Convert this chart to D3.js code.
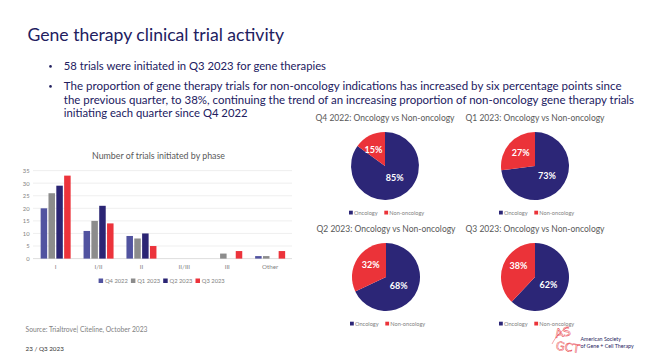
<!DOCTYPE html>
<html>
<head>
<meta charset="utf-8">
<script src="https://cdn.jsdelivr.net/npm/d3@7"></script>
<style>
  html, body { margin: 0; padding: 0; background: #ffffff; }
  svg { display: block; font-family: Lato, "Open Sans", sans-serif; }
</style>
</head>
<body>
<svg id="chart" width="649" height="360"></svg>
<script>
// ---------- data ----------
const pageTitle = "Gene therapy clinical trial activity";
const bulletLines = [
  ["58 trials were initiated in Q3 2023 for gene therapies"],
  ["The proportion of gene therapy trials for non-oncology indications has increased by six percentage points since",
   "the previous quarter, to 38%, continuing the trend of an increasing proportion of non-oncology gene therapy trials",
   "initiating each quarter since Q4 2022"]
];
const barTitle = "Number of trials initiated by phase";
const phases = ["I", "I/II", "II", "II/III", "III", "Other"];
const quarters = ["Q4 2022", "Q1 2023", "Q2 2023", "Q3 2023"];
const q4_2022 = [20, 11, 9, 0, 0, 1];
const q1_2023 = [26, 15, 8, 0, 2, 1];
const q2_2023 = [29, 21, 10, 0, 0, 0];
const q3_2023 = [33, 14, 5, 0, 3, 3];
const yTicks = [0, 5, 10, 15, 20, 25, 30, 35];

const pieTitles = ["Q4 2022: Oncology vs Non-oncology", "Q1 2023: Oncology vs Non-oncology",
                   "Q2 2023: Oncology vs Non-oncology", "Q3 2023: Oncology vs Non-oncology"];
const pieCategories = ["Oncology", "Non-oncology"];
const oncology = [85, 73, 68, 62];
const nonOncology = [15, 27, 32, 38];

const sourceText = "Source: Trialtrove| Citeline, October 2023";
const pageText = "23 / Q3 2023";

// ---------- styles ----------
const navyText = "#22205f";
const greyText = "#595959";
const barColors = ["#5153a0", "#8c8c8c", "#2b2574", "#ec333b"];
const pieColors = ["#2c2677", "#eb3339"];

const svg = d3.select("#chart");
svg.append("rect").attr("width", 649).attr("height", 360).attr("fill", "#fff");

// ---------- title & bullets ----------
svg.append("text").attr("x", 27.5).attr("y", 41)
  .attr("font-size", 18).attr("font-weight", 400).attr("fill", navyText)
  .attr("textLength", 256.5).attr("lengthAdjust", "spacingAndGlyphs")
  .text(pageTitle);

const bulletBase = [70, 90];
const lineEnds = [[326], [621.5, 634, 247.5]];
bulletLines.forEach((lines, i) => {
  svg.append("circle").attr("cx", 50.5).attr("cy", bulletBase[i] - 3.6).attr("r", 1.3).attr("fill", navyText);
  lines.forEach((ln, j) => {
    svg.append("text").attr("x", 63.8).attr("y", bulletBase[i] + j * 13.7)
      .attr("font-size", 11).attr("fill", navyText)
      .attr("textLength", lineEnds[i][j] - 63.8).attr("lengthAdjust", "spacingAndGlyphs")
      .text(ln);
  });
});

// ---------- bar chart ----------
const series = [q4_2022, q1_2023, q2_2023, q3_2023];
const x0 = d3.scaleBand().domain(phases).range([34.2, 291.6]).padding(0);
const x1 = d3.scaleBand().domain(quarters)
  .range([6.45, x0.bandwidth() - 6.45]).paddingInner(0.17);
const y = d3.scaleLinear().domain([0, 35]).range([258.6, 170.6]);

svg.append("text").attr("x", 92).attr("y", 159)
  .attr("font-size", 8.6).attr("fill", greyText)
  .attr("textLength", 133).attr("lengthAdjust", "spacingAndGlyphs").text(barTitle);

const grid = svg.append("g");
grid.selectAll("line").data(yTicks).join("line")
  .attr("x1", 33).attr("x2", 292)
  .attr("y1", d => y(d)).attr("y2", d => y(d))
  .attr("stroke", d => d === 0 ? "#d0d0d0" : "#e8e8e8").attr("stroke-width", 0.7);

const yAxis = d3.axisLeft(y).tickValues(yTicks).tickSize(0).tickPadding(0);
svg.append("g").attr("transform", "translate(29.5,0)").call(yAxis)
  .call(g => g.select(".domain").remove())
  .call(g => g.selectAll("text").attr("font-size", 5.8).attr("fill", "#7f7f7f")
    .attr("font-family", "Lato, sans-serif"));

const groups = svg.append("g").selectAll("g").data(phases).join("g")
  .attr("transform", d => `translate(${x0(d)},0)`);
groups.selectAll("rect")
  .data((p, pi) => quarters.map((q, qi) => ({ q, qi, v: series[qi][pi] })).filter(d => d.v > 0))
  .join("rect")
  .attr("x", d => x1(d.q)).attr("width", x1.bandwidth())
  .attr("y", d => y(d.v)).attr("height", d => y(0) - y(d.v))
  .attr("fill", d => barColors[d.qi]);

const xAxis = d3.axisBottom(x0).tickSize(0).tickPadding(0);
svg.append("g").attr("transform", "translate(0,264.5)").call(xAxis)
  .call(g => g.select(".domain").remove())
  .call(g => g.selectAll("text").attr("font-size", 6.2).attr("fill", "#7f7f7f")
    .attr("font-family", "Lato, sans-serif"));

const barLegend = svg.append("g").selectAll("g").data(quarters).join("g")
  .attr("transform", (d, i) => `translate(${98.6 + i * 32.3},280.8)`);
barLegend.append("rect").attr("x", 0).attr("y", -2.3).attr("width", 4.5).attr("height", 4.5)
  .attr("fill", (d, i) => barColors[i]);
barLegend.append("text").attr("x", 6.3).attr("y", 2).attr("font-size", 5.8).attr("fill", "#7f7f7f").text(d => d);

// ---------- pies ----------
const pieCenters = [[385, 166], [535, 166], [386, 277], [535, 277]];
const R = 34;
const pie = d3.pie().sort(null).value(d => d.v);
const arc = d3.arc().innerRadius(0).outerRadius(R);

pieTitles.forEach((t, i) => {
  const [cx, cy] = pieCenters[i];
  svg.append("text").attr("x", cx - 69.5).attr("y", cy - 45)
    .attr("font-size", 8.9).attr("fill", greyText)
    .attr("textLength", 139).attr("lengthAdjust", "spacingAndGlyphs").text(t);

  const data = pie([{ k: pieCategories[0], v: oncology[i] }, { k: pieCategories[1], v: nonOncology[i] }]);
  const g = svg.append("g").attr("transform", `translate(${cx},${cy})`);
  g.selectAll("path").data(data).join("path").attr("d", arc)
    .attr("fill", (d, j) => pieColors[j]);
  g.selectAll("text").data(data).join("text")
    .attr("transform", d => {
      let a = (d.startAngle + d.endAngle) / 2;
      // labels settle toward the upper-left / lower-right diagonal as in the source
      a = d.data.v < 50 ? (a + 1.75 * Math.PI) / 2 : (a + 0.72 * Math.PI) / 2;
      const rr = R * (d.data.v < 50 ? 0.58 : 0.46);
      return `translate(${rr * Math.sin(a)},${-rr * Math.cos(a) + 3.2})`;
    })
    .attr("text-anchor", "middle").attr("font-size", 9).attr("font-weight", 700)
    .attr("fill", "#ffffff").text(d => d.data.v + "%");

  const lg = svg.append("g").attr("transform", `translate(${cx - 36},${cy + 46.7})`);
  const items = lg.selectAll("g").data(pieCategories).join("g")
    .attr("transform", (d, j) => `translate(${j * 35.3},0)`);
  items.append("rect").attr("x", 0).attr("y", -2).attr("width", 3.8).attr("height", 3.8)
    .attr("fill", (d, j) => pieColors[j]);
  items.append("text").attr("x", 5).attr("y", 1.9).attr("font-size", 5.6).attr("fill", "#7f7f7f").text(d => d);
});

// ---------- footer ----------
svg.append("text").attr("x", 25.5).attr("y", 332).attr("font-size", 6.8).attr("fill", "#7f7f7f")
  .attr("textLength", 122).attr("lengthAdjust", "spacingAndGlyphs").text(sourceText);
svg.append("text").attr("x", 25.5).attr("y", 350.5).attr("font-size", 6.3).attr("font-weight", 400)
  .attr("fill", "#333333").text(pageText);

// logo
const logo = svg.append("g").attr("fill", "#fff").attr("stroke", "#e8343c").attr("stroke-width", 0.45);
logo.append("text").attr("x", 555).attr("y", 337).attr("font-size", 12).attr("font-family", "DejaVu Sans, sans-serif")
  .attr("transform", "rotate(-10,561,333)").text("AS");
logo.append("text").attr("x", 556).attr("y", 351).attr("font-size", 11.5).attr("font-family", "DejaVu Sans, sans-serif")
  .attr("transform", "rotate(8,566,346)").text("GCT");
logo.append("path").attr("fill", "none").attr("d", "M552,344 C556,336 562,330 568,327");
svg.append("text").attr("x", 580.5).attr("y", 340.5).attr("font-size", 5.3).attr("fill", "#27235e").text("American Society");
svg.append("text").attr("x", 580.5).attr("y", 347.5).attr("font-size", 5.3).attr("fill", "#27235e").text("of Gene + Cell Therapy");
</script>
</body>
</html>
